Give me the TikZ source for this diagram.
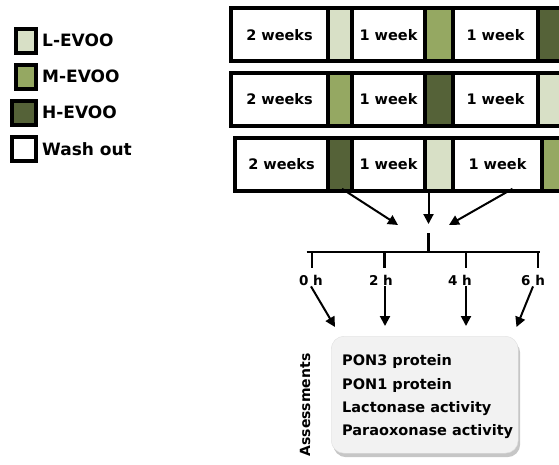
\documentclass[tikz,border=0pt]{standalone}
\usepackage{fontspec}
\setmainfont{DejaVu Sans}
\usepackage{xcolor}
\usetikzlibrary{arrows.meta,positioning,shadows,calc}

\definecolor{evooL}{HTML}{D8E0C6}
\definecolor{evooM}{HTML}{95A862}
\definecolor{evooH}{HTML}{556238}
\definecolor{boxfill}{HTML}{F2F2F2}

\begin{document}
\begin{tikzpicture}[
    x=1pt, y=-1pt,
    >={Triangle[length=10pt,width=10pt]},
    cell/.style={draw, line width=4pt, outer sep=0pt, inner sep=0pt, minimum height=53pt, font=\bfseries\fontsize{14.5}{17}\selectfont},
    wash/.style={cell, fill=white},
    low/.style={cell, fill=evooL},
    mid/.style={cell, fill=evooM},
    high/.style={cell, fill=evooH},
    legbox/.style={draw, line width=4pt, outer sep=0pt, inner sep=0pt, minimum width=20pt, minimum height=24pt},
    legtext/.style={font=\bfseries\fontsize{17}{20}\selectfont, inner sep=2pt},
    timelabel/.style={font=\bfseries\fontsize{13.5}{16}\selectfont, inner sep=1pt},
    conn/.style={->, line width=2pt},
    branch/.style={line width=2.5pt},
]
\path[use as bounding box, clip] (0,0) rectangle (559,464);

% Legend
\node[legbox, fill=evooL] (sqL) at (26,40.7) {};
\node[legbox, fill=evooM, below=12pt of sqL] (sqM) {};
\node[legbox, fill=evooH, minimum width=24pt, below left=12pt and 0pt of sqM.south east] (sqH) {};
\node[legbox, fill=white, minimum width=24pt, below=12pt of sqH] (sqW) {};
\node[legtext, right=4pt of sqL] (tL) {L-EVOO};
\node[legtext, right=4pt of sqM] (tM) {M-EVOO};
\node[legtext, right=4pt of sqH] (tH) {H-EVOO};
\node[legtext, right=4pt of sqW] (tW) {Wash out};

% Row 1
\node[wash, minimum width=97pt, anchor=west] (r1a) at (231,34.7) {2 weeks};
\node[low, minimum width=24pt, right=0pt of r1a] (r1b) {};
\node[wash, minimum width=73pt, right=0pt of r1b] (r1c) {1 week};
\node[mid, minimum width=28pt, right=0pt of r1c] (r1d) {};
\node[wash, minimum width=85pt, right=0pt of r1d] (r1e) {1 week};
\node[high, minimum width=30pt, right=0pt of r1e] (r1f) {};

% Row 2
\node[wash, minimum width=97pt, anchor=west] (r2a) at (231,99.2) {2 weeks};
\node[mid, minimum width=24pt, right=0pt of r2a] (r2b) {};
\node[wash, minimum width=73pt, right=0pt of r2b] (r2c) {1 week};
\node[high, minimum width=28pt, right=0pt of r2c] (r2d) {};
\node[wash, minimum width=85pt, right=0pt of r2d] (r2e) {1 week};
\node[low, minimum width=30pt, right=0pt of r2e] (r2f) {};

% Row 3
\node[wash, minimum width=93pt, anchor=west] (r3a) at (235,164.3) {2 weeks};
\node[high, minimum width=24pt, right=0pt of r3a] (r3b) {};
\node[wash, minimum width=73pt, right=0pt of r3b] (r3c) {1 week};
\node[low, minimum width=28pt, right=0pt of r3c] (r3d) {};
\node[wash, minimum width=89pt, right=0pt of r3d] (r3e) {1 week};
\node[mid, minimum width=30pt, right=0pt of r3e] (r3f) {};

% Merge towards the time points
\coordinate (tipL) at (398,225);
\coordinate (tipC) at (428.5,224);
\coordinate (tipR) at (449,225);
\coordinate (stem) at (428.5,233);
\coordinate (hub) at (428.5,252);
\draw[conn] ($(r3b.south)+(2,-2)$) -- (tipL);
\draw[conn] ($(r3d.south west)+(3.5,-2)$) -- (tipC);
\draw[conn] ($(r3e.south)+(15,-2)$) -- (tipR);
\draw[branch] (stem) -- (hub);
\draw[branch] (306.5,252) -- (540,252);

% Time points
\node[timelabel] (t0) at (311,280) {0 h};
\node[timelabel] (t2) at (381,280) {2 h};
\node[timelabel] (t4) at (460,280) {4 h};
\node[timelabel] (t6) at (533,280) {6 h};
\foreach \tp/\xx in {t0/312,t2/384.7,t4/466,t6/538}
    \draw[branch] (\xx,252) -- (\xx,268);

% Assessment box
\node[draw=gray!25, fill=boxfill, rounded corners=13pt, minimum width=187pt, minimum height=117pt,
      drop shadow={shadow xshift=2pt, shadow yshift=-4pt, fill=gray!45, opacity=1},
      anchor=north west] (box) at (331,336) {};
\node[align=left, anchor=west, font=\bfseries\fontsize{14.5}{23.3}\selectfont, inner sep=0pt] (boxtext)
    at ($(box.west)+(11,2)$) {PON3 protein\\PON1 protein\\Lactonase activity\\Paraoxonase activity};
\node[rotate=90, font=\bfseries\fontsize{14}{16}\selectfont] (assess) at (305,405) {Assessments};

% Arrows into the box
\coordinate (in0) at (335,327);
\coordinate (in2) at (385,326);
\coordinate (in4) at (466,326);
\coordinate (in6) at (516.5,327);
\draw[conn] (t0.south) -- (in0);
\draw[conn] (t2.south -| in2) -- (in2);
\draw[conn] (t4.south -| in4) -- (in4);
\draw[conn] (t6.south) -- (in6);

\end{tikzpicture}
\end{document}
